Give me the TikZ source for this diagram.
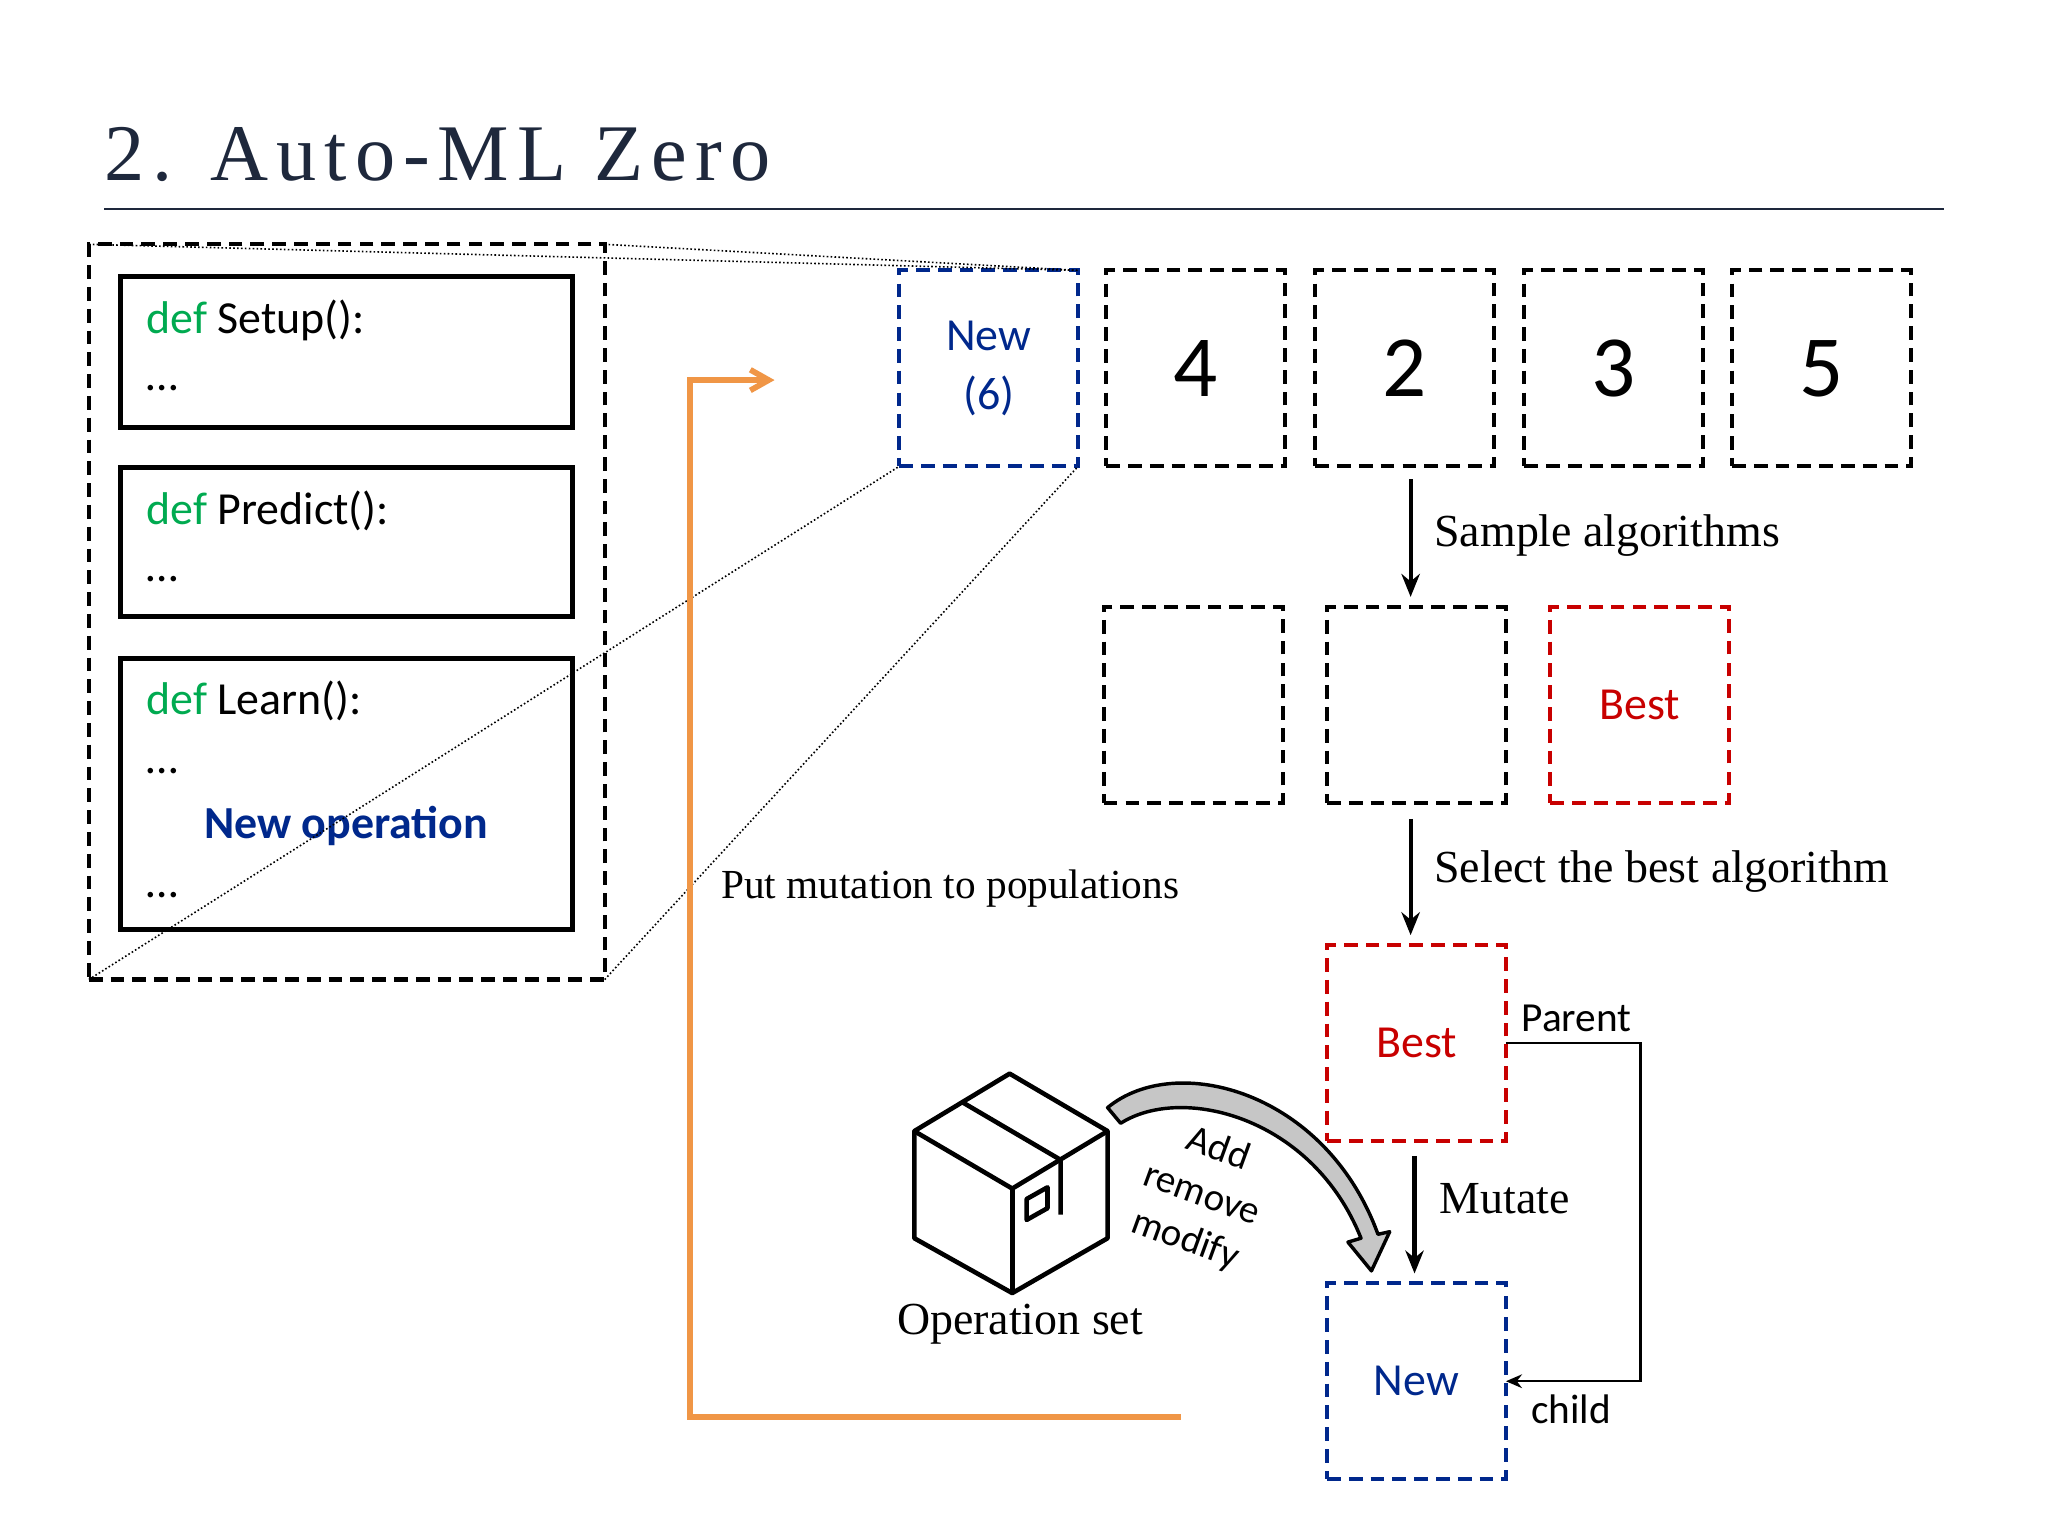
\documentclass[tikz,border=0pt]{standalone}
\usepackage{fontspec}
\setmainfont{Liberation Serif}
\newfontfamily\calfont{Carlito}
\usetikzlibrary{arrows.meta}
\definecolor{dgreen}{RGB}{0,170,80}
\definecolor{navy}{RGB}{0,40,140}
\definecolor{dred}{RGB}{200,0,0}
\definecolor{orng}{RGB}{240,150,70}
\definecolor{ttl}{RGB}{30,40,60}
\begin{document}
\begin{tikzpicture}[x=0.02cm,y=-0.02cm,
 dsh/.style={draw,line width=1.8pt,dash pattern=on 6pt off 3.5pt},
 sq/.style={dsh,minimum width=2.74cm,minimum height=3cm,inner sep=0,outer sep=0},
 code/.style={draw,line width=2.2pt,inner sep=0,outer sep=0,minimum width=6.92cm},
 ctxt/.style={anchor=west,font=\calfont\fontsize{20}{24}\selectfont},
 ser/.style={anchor=west,font=\fontsize{20}{24}\selectfont},
 arr/.style={line width=1.8pt,-{Stealth[length=10pt,width=8pt]}},
 dot/.style={densely dotted,line width=0.7pt}]
\useasboundingbox (0,0) rectangle (1568,1176);
\node[anchor=west,font=\fontsize{35}{40}\selectfont\addfontfeature{LetterSpace=10},text=ttl] (title) at (74,118) {2. Auto-ML Zero};
\draw[ttl,line width=1pt] (80,160) coordinate (l1) -- (1488,160) coordinate (l2);
% outer box
\node[dsh,minimum width=7.9cm,minimum height=11.26cm,inner sep=0,outer sep=0] (outer) at (265.5,468.5) {};
\node[code,minimum height=2.3cm] (c1) at (265,269.5) {};
\node[code,minimum height=2.28cm] (c2) at (265,415) {};
\node[code,minimum height=4.16cm] (c3) at (265,608) {};
\node[ctxt] (t1) at (106,245) {\textcolor{dgreen}{def} Setup():};
\node[ctxt] (t1b) at (106,297) {…};
\node[ctxt] (t2) at (106,391) {\textcolor{dgreen}{def} Predict():};
\node[ctxt] (t2b) at (106,443) {…};
\node[ctxt] (t3) at (106,537) {\textcolor{dgreen}{def} Learn():};
\node[ctxt] (t3b) at (106,590) {…};
\node[font=\calfont\bfseries\fontsize{20}{24}\selectfont,text=navy] (nop) at (265,632) {New operation};
\node[ctxt] (t3c) at (106,685) {…};
% population
\node[sq,draw=navy,align=center,font=\calfont\fontsize{20}{26}\selectfont,text=navy] (new6) at (757,282) {New\\(6)};
\node[sq,font=\calfont\fontsize{38}{40}\selectfont] (p4) at (915.5,282) {4};
\node[sq,font=\calfont\fontsize{38}{40}\selectfont] (p2) at (1075.5,282) {2};
\node[sq,font=\calfont\fontsize{38}{40}\selectfont] (p3) at (1235.5,282) {3};
\node[sq,font=\calfont\fontsize{38}{40}\selectfont] (p5) at (1394.5,282) {5};
\draw[dot] (outer.north west) -- (new6.north east);
\draw[dot] (outer.north east) -- (new6.north east);
\draw[dot] (outer.south west) -- (new6.south west);
\draw[dot] (outer.south east) -- (new6.south east);
% sample
\coordinate (a1s) at (1080,367); \coordinate (a1e) at (1080,457);
\draw[arr] (a1s) -- (a1e);
\node[ser] (lsamp) at (1092,410) {Sample algorithms};
\node[sq] (s1) at (913.5,539.5) {};
\node[sq] (s2) at (1084.5,539.5) {};
\node[sq,draw=dred,text=dred,font=\calfont\fontsize{20}{24}\selectfont] (s3) at (1255.5,539.5) {Best};
\coordinate (a2s) at (1080,627); \coordinate (a2e) at (1080,716);
\draw[arr] (a2s) -- (a2e);
\node[ser] (lsel) at (1092,667) {Select the best algorithm};
\node[sq,draw=dred,text=dred,font=\calfont\fontsize{20}{24}\selectfont] (best) at (1084.5,798.5) {Best};
\coordinate (a3s) at (1083,885); \coordinate (a3e) at (1083,975);
\draw[arr] (a3s) -- (a3e);
\node[ser] (lmut) at (1096,918) {Mutate};
\node[sq,draw=navy,text=navy,font=\calfont\fontsize{20}{24}\selectfont] (newc) at (1084.5,1057.5) {New};
\draw[line width=1pt,-{Stealth[length=7pt,width=6pt]}] (best.east) -- (1256,798.5) -- (1256,1057.5) -- (newc.east);
\node[font=\calfont\fontsize{18}{22}\selectfont] (lpar) at (1207,780) {Parent};
\node[font=\calfont\fontsize{18}{22}\selectfont] (lch) at (1203,1079) {child};
% orange feedback
\coordinate (o1) at (904,1085); \coordinate (o2) at (593,291);
\draw[orng,line width=2.5pt,-{Straight Barb[length=8pt,width=9pt]}] (o1) -- (528,1085) -- (528,291) -- (o2);
\node[ser,font=\fontsize{18}{22}\selectfont] (lput) at (546,680) {Put mutation to populations};
% box icon
\begin{scope}[line width=2pt,line join=round]
\draw (700,866) -- (773,822) -- (848,866) -- (775,910) -- cycle;
\draw (700,866) -- (700,948) -- (775,990) -- (848,948) -- (848,866);
\draw (775,910) -- (775,990);
\draw (737,844) -- (812,888) -- (812,930);
\draw (786,918) -- (802,909) -- (802,925) -- (786,934) -- cycle;
\end{scope}
\node[font=\fontsize{20}{24}\selectfont] (lop) at (781,1014) {Operation set};
% curved arrow
\draw[fill=gray!45,line width=1.5pt,line join=round] (848,848) .. controls (900,805) and (1015,835) .. (1055,945) -- (1064,943) -- (1050,973) -- (1032,951) -- (1042,948) .. controls (1005,855) and (905,830) .. (858,860) -- cycle;
\node[font=\calfont\fontsize{17}{21}\selectfont,rotate=-20,align=center] (lam) at (920,915) {Add\\remove\\modify};
\end{tikzpicture}
\end{document}
